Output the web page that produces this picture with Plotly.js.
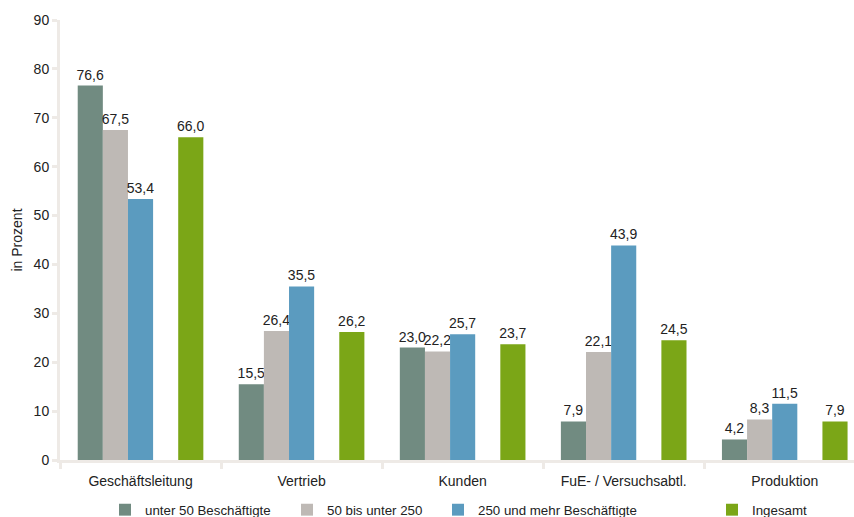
<!DOCTYPE html>
<html>
<head>
<meta charset="utf-8">
<script src="https://cdn.plot.ly/plotly-3.0.1.min.js"></script>
<style>html,body{margin:0;padding:0;background:#fff;}#chart{width:854px;height:517px;}</style>
</head>
<body>
<div id="chart"></div>
<script>
const categories = ["Geschäftsleitung", "Vertrieb", "Kunden", "FuE- / Versuchsabtl.", "Produktion"];
const seriesNames = ["unter 50 Beschäftigte", "50 bis unter 250", "250 und mehr Beschäftigte", "Ingesamt"];
const unter50 = [76.6, 15.5, 23.0, 7.9, 4.2];
const bis250 = [67.5, 26.4, 22.2, 22.1, 8.3];
const mehr250 = [53.4, 35.5, 25.7, 43.9, 11.5];
const ingesamt = [66.0, 26.2, 23.7, 24.5, 7.9];
const colors = ["#718B81", "#BEB9B5", "#5B9BBF", "#7BA617"];

const fam = "Liberation Sans, Arial, sans-serif";
const font = {family: fam, size: 14, color: "#222"};
const legendFont = {family: fam, size: 13.3, color: "#222"};

function barTrace(name, vals, color, leg) {
  return {
    type: "bar", name: name, x: categories, y: vals,
    marker: {color: color, line: {width: 12, color: "rgba(0,0,0,0)"}}, legend: leg,
    text: vals.map(v => v.toFixed(1).replace(".", ",")),
    textposition: "outside", cliponaxis: false, constraintext: "none",
    textfont: font, hoverinfo: "skip"
  };
}

const traces = [
  barTrace(seriesNames[0], unter50, colors[0], "legend"),
  barTrace(seriesNames[1], bis250, colors[1], "legend2"),
  barTrace(seriesNames[2], mehr250, colors[2], "legend3"),
  {type: "bar", name: "", x: categories, y: categories.map(() => null),
   marker: {color: "rgba(0,0,0,0)"}, hoverinfo: "skip", showlegend: false},
  barTrace(seriesNames[3], ingesamt, colors[3], "legend4")
];

function leg(xpx) {
  return {orientation: "h", x: (xpx - 60) / 794, xanchor: "left", y: -(510 - 460) / 440, yanchor: "middle",
          font: legendFont, bgcolor: "rgba(0,0,0,0)", itemwidth: 30};
}

const layout = {
  width: 854, height: 517,
  margin: {l: 60, r: 0, t: 20, b: 57, autoexpand: false},
  paper_bgcolor: "#fff", plot_bgcolor: "#fff",
  font: font,
  barmode: "group", bargap: 0.22, bargroupgap: 0,
  separators: ",.",
  showlegend: true,
  legend: leg(105), legend2: leg(287), legend3: leg(438), legend4: leg(712),
  xaxis: {range: [-0.5, 4.43], showgrid: false, showline: true, linecolor: "#EEEAE6", linewidth: 3,
          ticks: "outside", tickson: "boundaries", ticklen: 6, tickwidth: 3, tickcolor: "#EEEAE6",
          tickfont: font, ticklabelstandoff: 6, fixedrange: true, zeroline: false},
  yaxis: {range: [0, 90], dtick: 10, showgrid: false, showline: true, linecolor: "#EEEAE6", linewidth: 3,
          ticks: "outside", ticklen: 5, tickwidth: 3, tickcolor: "#EEEAE6", zeroline: false,
          tickfont: font, title: {text: "in Prozent", font: {family: fam, size: 14, color: "#222"}, standoff: 8}}
};

Plotly.newPlot("chart", traces, layout, {displayModeBar: false, staticPlot: true});
</script>
</body>
</html>
